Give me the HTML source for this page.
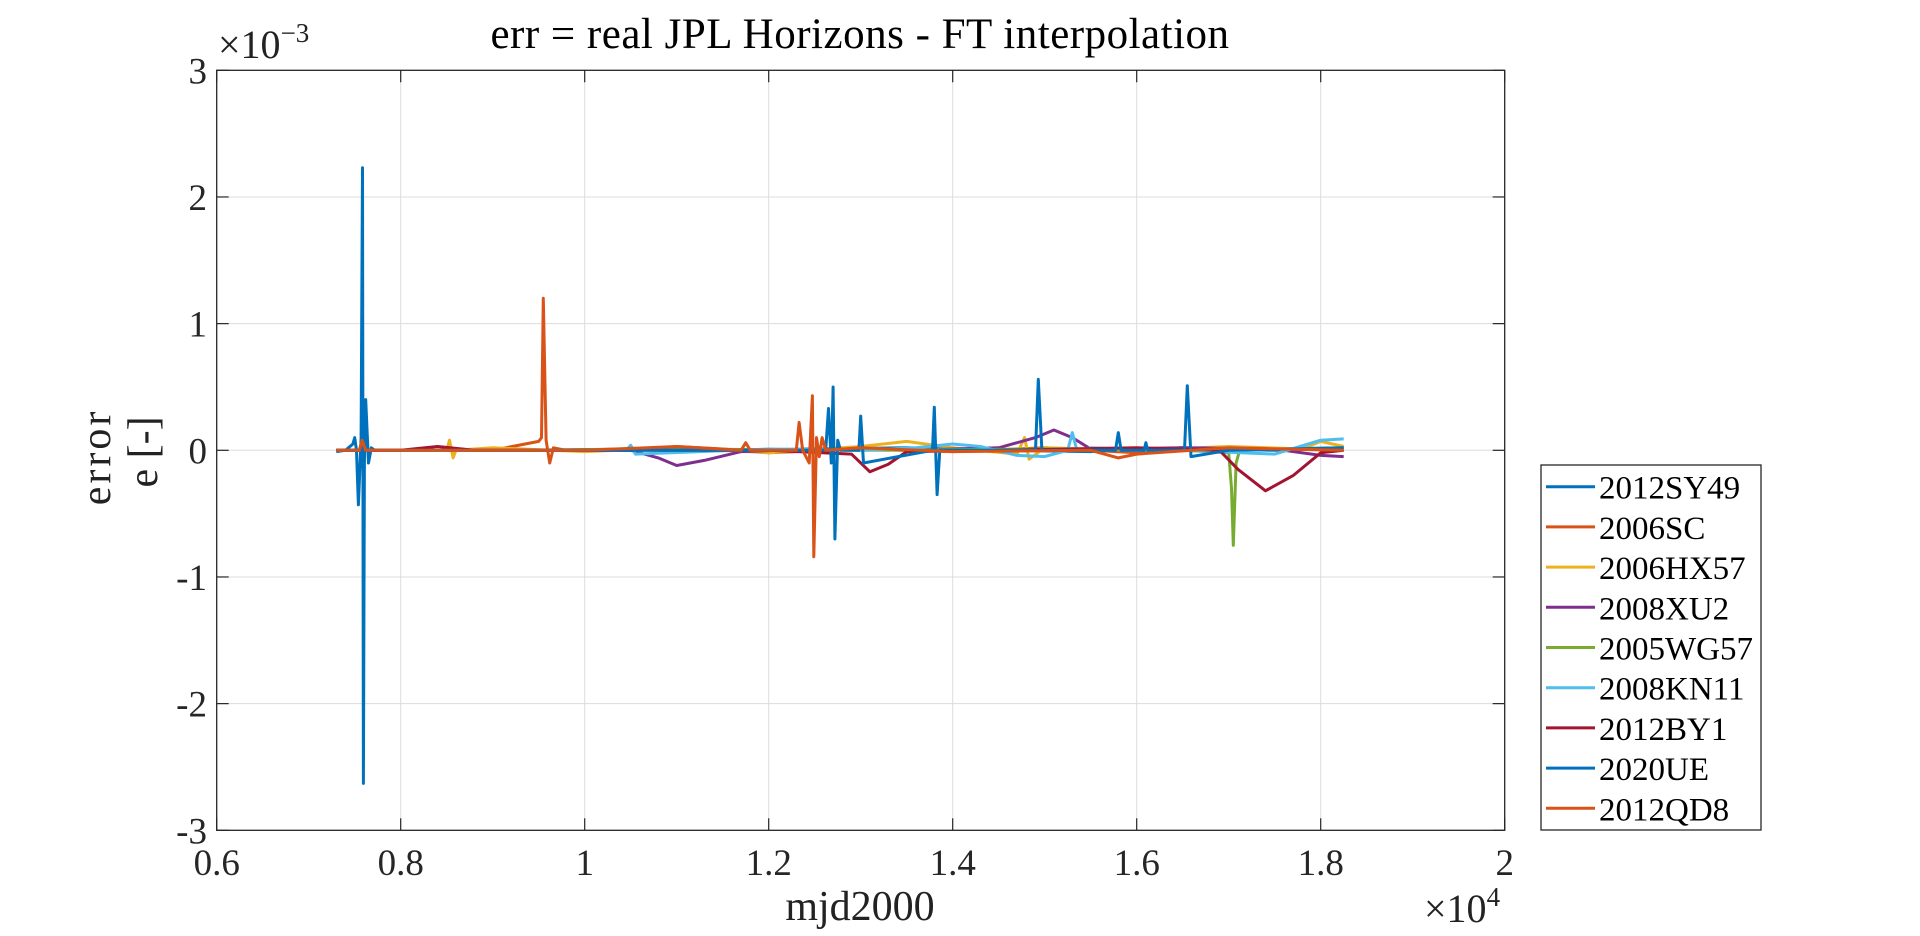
<!DOCTYPE html>
<html><head><meta charset="utf-8">
<style>
html,body{margin:0;padding:0;background:#fff;width:1920px;height:936px;overflow:hidden}
svg{display:block;font-family:"Liberation Serif",serif}
</style></head>
<body>
<svg id="chart" width="1920" height="936" viewBox="0 0 1920 936">
<rect x="0" y="0" width="1920" height="936" fill="#fff"/>
<g id="grid"></g>
<g id="series"></g>
<g id="axes"></g>
<text x="860" y="48" font-size="43" text-anchor="middle" fill="#000" letter-spacing="0.5">err = real JPL Horizons - FT interpolation</text>
<text x="218" y="58" font-size="40" fill="#222">×10<tspan dy="-16" font-size="27">−3</tspan></text>
<text x="1424" y="922" font-size="40" fill="#222">×10<tspan dy="-16" font-size="27">4</tspan></text>
<text x="860" y="920" font-size="42" text-anchor="middle" fill="#222">mjd2000</text>
<text transform="translate(110,457) rotate(-90)" font-size="42" text-anchor="middle" fill="#222" letter-spacing="3">error</text>
<text transform="translate(157,452) rotate(-90)" font-size="42" text-anchor="middle" fill="#222">e  [-]</text>
<g id="legend"></g>
</svg>
<script>
const xTicks = [0.6, 0.8, 1.0, 1.2, 1.4, 1.6, 1.8, 2.0];
const xTickLabels = ["0.6", "0.8", "1", "1.2", "1.4", "1.6", "1.8", "2"];
const yTicks = [-3, -2, -1, 0, 1, 2, 3];
const yTickLabels = ["-3", "-2", "-1", "0", "1", "2", "3"];
const seriesNames = ["2012SY49","2006SC","2006HX57","2008XU2","2005WG57","2008KN11","2012BY1","2020UE","2012QD8"];
const seriesColors = ["#0072BD","#D95319","#EDB120","#7E2F8E","#77AC30","#4DBEEE","#A2142F","#0072BD","#D95319"];
// x in units of 1e4 mjd2000, y in units of 1e-3
const s2012SY49X = [0.730,0.740,0.748,0.750,0.752,0.754,0.757,0.7585,0.7595,0.7605,0.762,0.765,0.768,0.772,0.780,0.85,0.95,1.05,1.15,1.25,1.35,1.45,1.55,1.65,1.75,1.825];
const s2012SY49Y = [-0.01,0.00,0.05,0.10,0.00,-0.43,0.10,2.23,-2.63,-0.10,0.40,-0.10,0.02,0.00,0.00,0.00,0.00,0.01,0.00,0.01,0.02,0.00,-0.01,0.02,0.00,0.02];
const s2006SCX = [0.730,0.80,0.90,0.950,0.953,0.955,0.958,0.962,0.966,0.98,1.05,1.10,1.15,1.20,1.30,1.40,1.50,1.60,1.70,1.825];
const s2006SCY = [0.00,0.00,0.00,0.07,0.10,1.20,0.08,-0.10,0.02,0.00,0.00,0.03,0.01,-0.02,0.01,-0.01,0.02,-0.02,0.02,0.00];
const s2006HX57X = [0.730,0.85,0.853,0.857,0.860,0.90,1.00,1.10,1.20,1.30,1.35,1.40,1.47,1.478,1.483,1.50,1.60,1.70,1.78,1.80,1.825];
const s2006HX57Y = [0.00,0.00,0.08,-0.06,0.00,0.02,-0.01,0.02,-0.02,0.03,0.07,0.02,-0.03,0.10,-0.07,0.02,0.00,0.03,0.01,0.07,0.03];
const s2008XU2X = [0.730,0.90,1.05,1.08,1.10,1.13,1.17,1.25,1.35,1.45,1.49,1.51,1.53,1.55,1.65,1.75,1.80,1.825];
const s2008XU2Y = [0.00,0.00,0.00,-0.06,-0.12,-0.08,-0.01,0.01,0.00,0.02,0.10,0.16,0.10,0.01,0.02,0.01,-0.04,-0.05];
const s2005WG57X = [0.730,0.90,1.10,1.30,1.50,1.65,1.700,1.703,1.705,1.708,1.712,1.75,1.825];
const s2005WG57Y = [0.00,0.00,0.01,0.00,0.01,0.00,-0.02,-0.30,-0.75,-0.10,0.00,0.01,0.02];
const s2008KN11X = [0.730,0.88,1.045,1.05,1.055,1.20,1.30,1.36,1.40,1.43,1.47,1.50,1.525,1.53,1.535,1.55,1.65,1.75,1.80,1.825];
const s2008KN11Y = [0.00,0.00,0.00,0.04,-0.03,0.01,0.00,0.02,0.05,0.03,-0.04,-0.05,0.00,0.14,0.00,0.02,0.00,-0.03,0.08,0.09];
const s2012BY1X = [0.730,0.80,0.84,0.88,1.00,1.20,1.29,1.31,1.33,1.35,1.45,1.60,1.69,1.71,1.74,1.77,1.80,1.825];
const s2012BY1Y = [0.00,0.00,0.03,0.00,0.00,0.00,-0.03,-0.17,-0.11,-0.01,0.00,0.02,0.00,-0.15,-0.32,-0.20,-0.02,0.00];
const s2020UEX = [0.730,1.20,1.262,1.265,1.268,1.270,1.272,1.275,1.278,1.298,1.300,1.303,1.378,1.380,1.383,1.386,1.490,1.493,1.497,1.577,1.580,1.583,1.608,1.610,1.612,1.652,1.655,1.659,1.70,1.825];
const s2020UEY = [0.00,0.00,0.00,0.33,-0.10,0.50,-0.70,0.08,0.00,0.00,0.27,-0.10,0.00,0.34,-0.35,0.00,0.00,0.56,0.00,0.00,0.14,0.00,0.00,0.06,0.00,0.00,0.51,-0.05,0.00,0.02];
const s2012QD8X = [0.730,0.755,0.758,0.762,0.80,1.00,1.10,1.170,1.175,1.180,1.230,1.233,1.237,1.244,1.2475,1.249,1.252,1.255,1.258,1.262,1.30,1.40,1.55,1.58,1.60,1.70,1.825];
const s2012QD8Y = [0.00,0.00,0.08,0.00,0.00,0.00,0.03,0.00,0.06,0.00,0.00,0.22,0.00,-0.10,0.43,-0.84,0.10,-0.05,0.10,0.00,0.02,-0.01,0.00,-0.06,-0.03,0.02,0.00];
const seriesX = [s2012SY49X,s2006SCX,s2006HX57X,s2008XU2X,s2005WG57X,s2008KN11X,s2012BY1X,s2020UEX,s2012QD8X];
const seriesY = [s2012SY49Y,s2006SCY,s2006HX57Y,s2008XU2Y,s2005WG57Y,s2008KN11Y,s2012BY1Y,s2020UEY,s2012QD8Y];

const NS = "http://www.w3.org/2000/svg";
const L = 216.7, R = 1504.7, T = 70.3, B = 830.3;
const xMin = 0.6, xMax = 2.0, yMin = -3, yMax = 3;
function sx(v){ return L + (v - xMin) / (xMax - xMin) * (R - L); }
function sy(v){ return B - (v - yMin) / (yMax - yMin) * (B - T); }
function mk(tag, attrs){ const e = document.createElementNS(NS, tag); for (const k in attrs) e.setAttribute(k, attrs[k]); return e; }

const grid = document.getElementById('grid');
const axes = document.getElementById('axes');
xTicks.forEach((v, i) => {
  const x = sx(v);
  if (i > 0 && i < xTicks.length - 1) {
    const g = mk('line', {x1:x, x2:x, y1:T, y2:B, stroke:'#dcdcdc', 'stroke-width':1});
    
    
    grid.appendChild(g);
  }
  const t1 = mk('line', {x1:x, x2:x, y1:B, y2:B-12, stroke:'#262626', 'stroke-width':1.2});
  
  
  axes.appendChild(t1);
  const t2 = mk('line', {x1:x, x2:x, y1:T, y2:T+12, stroke:'#262626', 'stroke-width':1.2});
  
  
  axes.appendChild(t2);
  const lab = mk('text', {x:x, y:875, 'font-size':37, 'text-anchor':'middle', fill:'#262626'});
  lab.textContent = xTickLabels[i];
  
  
  axes.appendChild(lab);
});
yTicks.forEach((v, i) => {
  const y = sy(v);
  if (i > 0 && i < yTicks.length - 1) {
    const g = mk('line', {x1:L, x2:R, y1:y, y2:y, stroke:'#dcdcdc', 'stroke-width':1});
    
    
    grid.appendChild(g);
  }
  const t1 = mk('line', {x1:L, x2:L+12, y1:y, y2:y, stroke:'#262626', 'stroke-width':1.2});
  
  
  axes.appendChild(t1);
  const t2 = mk('line', {x1:R, x2:R-12, y1:y, y2:y, stroke:'#262626', 'stroke-width':1.2});
  
  
  axes.appendChild(t2);
  const lab = mk('text', {x:207, y:y+13, 'font-size':37, 'text-anchor':'end', fill:'#262626'});
  lab.textContent = yTickLabels[i];
  
  
  axes.appendChild(lab);
});
const box = mk('rect', {x:L, y:T, width:R-L, height:B-T, fill:'none', stroke:'#262626', 'stroke-width':1.3});


axes.appendChild(box);

const sg = document.getElementById('series');
seriesNames.forEach((name, k) => {
  const xs = seriesX[k], ys = seriesY[k];
  const pts = xs.map((x, j) => sx(x).toFixed(1) + ',' + sy(ys[j]).toFixed(1)).join(' ');
  const p = mk('polyline', {points:pts, fill:'none', stroke:seriesColors[k], 'stroke-width':3, 'stroke-linejoin':'round'});
  
  
  sg.appendChild(p);
});

const lg = document.getElementById('legend');
const lb = mk('rect', {x:1541, y:465, width:220, height:365, fill:'#fff', stroke:'#262626', 'stroke-width':1.3});


lg.appendChild(lb);
seriesNames.forEach((name, k) => {
  const y = 486.7 + k * 40.2;
  const g = mk('g', {});
  
  
  const ln = mk('line', {x1:1546, x2:1595, y1:y, y2:y, stroke:seriesColors[k], 'stroke-width':3});
  
  
  g.appendChild(ln);
  const t = mk('text', {x:1599, y:y+12, 'font-size':33, fill:'#000'});
  t.textContent = name;
  
  
  g.appendChild(t);
  lg.appendChild(g);
});
</script>
</body></html>
